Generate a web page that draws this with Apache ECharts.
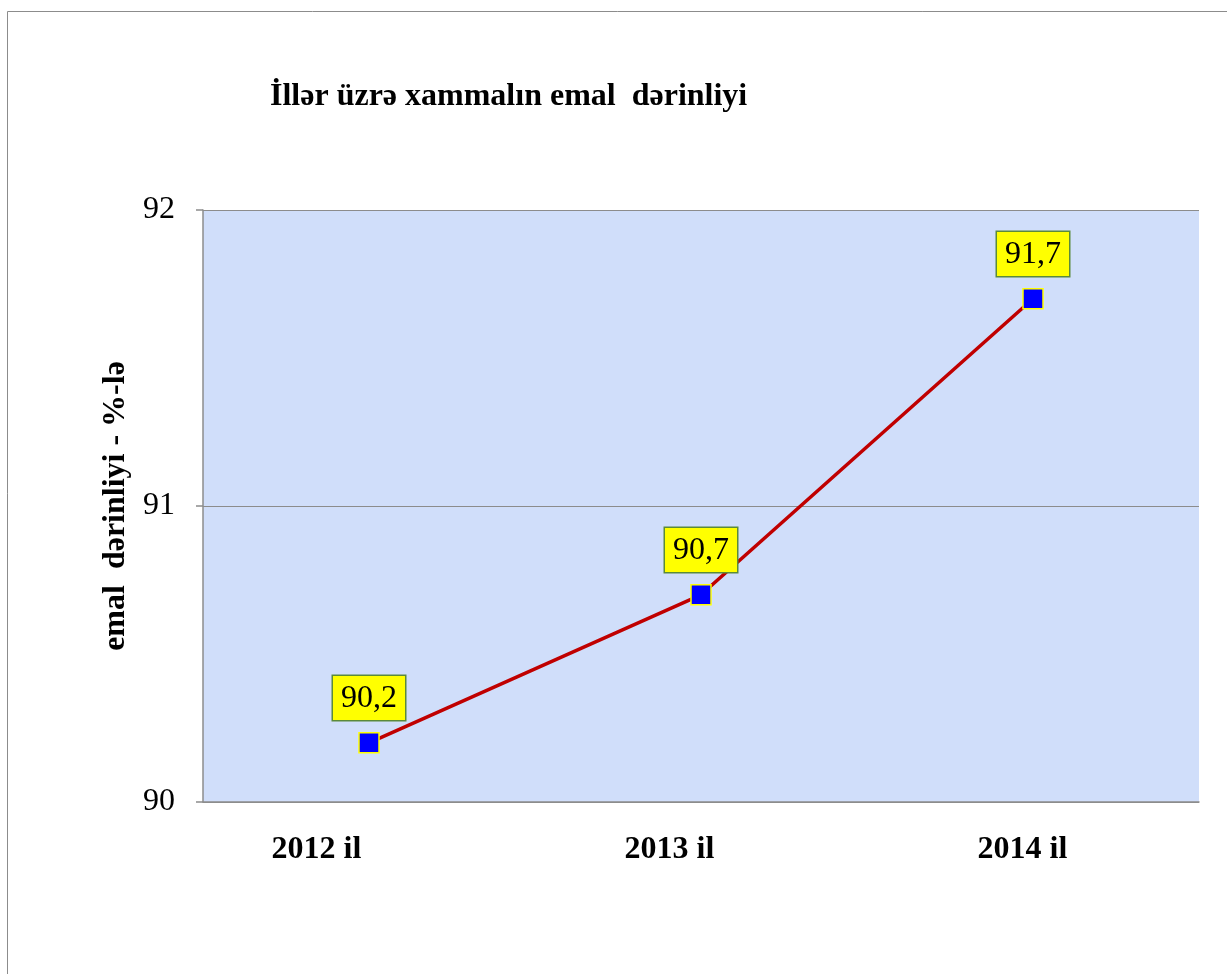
<!DOCTYPE html>
<html>
<head>
<meta charset="utf-8">
<script src="https://cdn.jsdelivr.net/npm/echarts@6/dist/echarts.min.js"></script>
<style>
html,body{margin:0;padding:0;background:#fff;}
#c{width:1227px;height:974px;}
</style>
</head>
<body>
<div id="c"></div>
<script>
const titleText = 'İllər üzrə xammalın emal  dərinliyi';
const yAxisName = 'emal  dərinliyi - %-lə';
const categories = ['2012 il', '2013 il', '2014 il'];
const values = [90.2, 90.7, 91.7];
const yMin = 90, yMax = 92, yInterval = 1;

const FONT = '"Liberation Serif", "Times New Roman", serif';
const chart = echarts.init(document.getElementById('c'));
chart.setOption({
  backgroundColor: '#ffffff',
  animation: false,
  graphic: [{
    type: 'rect', silent: true, z: -10,
    shape: { x: 7.5, y: 11.5, width: 1260, height: 1000 },
    style: { fill: 'none', stroke: '#8c8c8c', lineWidth: 1 }
  }],
  title: {
    text: titleText,
    left: 265, top: 76,
    textStyle: { fontFamily: FONT, fontWeight: 'bold', fontSize: 32, color: '#000' }
  },
  grid: [
    { left: 203, right: 28, top: 210, bottom: 172, show: true, backgroundColor: '#D0DEFA', borderWidth: 0 },
    { left: 140, right: 28, top: 210, bottom: 172, show: false }
  ],
  xAxis: [{
    type: 'category',
    gridIndex: 0,
    data: categories,
    boundaryGap: true,
    axisLine: { show: true, lineStyle: { color: '#8c8c8c', width: 1.5 } },
    axisTick: { show: false },
    axisLabel: { show: false }
  }, {
    type: 'category',
    gridIndex: 1,
    data: categories,
    boundaryGap: true,
    axisLine: { show: false },
    axisTick: { show: false },
    splitLine: { show: false },
    axisLabel: { fontFamily: FONT, fontWeight: 'bold', fontSize: 32, color: '#000', margin: 32 }
  }],
  yAxis: [{
    type: 'value',
    gridIndex: 0,
    min: yMin, max: yMax, interval: yInterval,
    name: yAxisName,
    nameLocation: 'middle',
    nameGap: 58,
    nameTextStyle: { fontFamily: FONT, fontWeight: 'bold', fontSize: 32, color: '#000' },
    axisLine: { show: true, lineStyle: { color: '#8c8c8c', width: 1.5 } },
    axisTick: { show: true, length: 7, lineStyle: { color: '#8c8c8c', width: 1.5 } },
    axisLabel: { fontFamily: FONT, fontSize: 32, color: '#000', margin: 28 },
    splitLine: { show: true, lineStyle: { color: '#8c8c8c', width: 1 } }
  }, {
    type: 'value',
    gridIndex: 1,
    min: yMin, max: yMax,
    show: false,
    splitLine: { show: false }
  }],
  series: [{
    type: 'line',
    xAxisIndex: 0, yAxisIndex: 0,
    data: values,
    symbol: 'rect',
    symbolSize: 20,
    itemStyle: { color: '#0000FF', borderColor: '#FFFF00', borderWidth: 1.5 },
    lineStyle: { color: '#C00000', width: 3.5 },
    label: {
      show: true,
      position: 'top',
      distance: 12,
      formatter: p => String(p.value).replace('.', ','),
      fontFamily: FONT, fontSize: 32, color: '#000',
      backgroundColor: '#FFFF00',
      borderColor: '#5B8A3A', borderWidth: 1.5,
      padding: [7, 8, 5, 8]
    }
  }]
});
</script>
</body>
</html>
